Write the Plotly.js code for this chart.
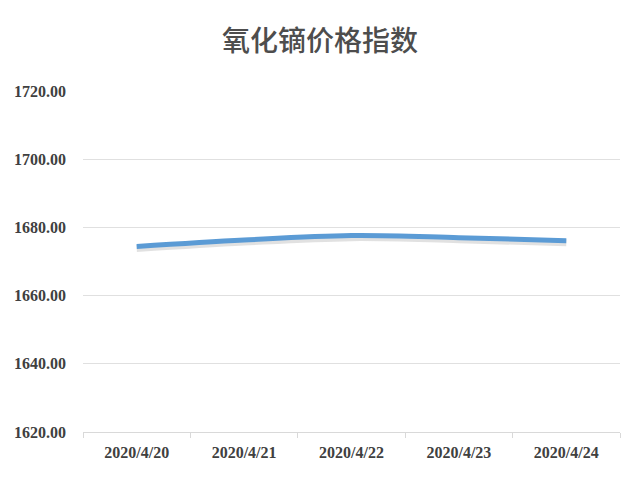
<!DOCTYPE html>
<html><head><meta charset="utf-8">
<script src="https://cdn.plot.ly/plotly-3.0.1.min.js"></script>
<style>html,body{margin:0;padding:0;background:#fff;}#chart{width:640px;height:480px;}</style>
</head><body><div id="chart"></div>
<script>
const categories = ["2020/4/20", "2020/4/21", "2020/4/22", "2020/4/23", "2020/4/24"];
const values = [1674.4, 1676.3, 1677.6, 1677.0, 1676.1];
const yTicks = [1620, 1640, 1660, 1680, 1700, 1720];
const yTickLabels = ["1620.00", "1640.00", "1660.00", "1680.00", "1700.00", "1720.00"];

const shadow = {
  x: categories, y: values.map(v => v - 0.6), type: "scatter", mode: "lines",
  line: {color: "rgba(120,120,120,0.22)", width: 7, shape: "spline"},
  hoverinfo: "skip", showlegend: false
};
const main = {
  x: categories, y: values, type: "scatter", mode: "lines",
  line: {color: "#5b9bd5", width: 5, shape: "spline"},
  showlegend: false
};
const layout = {
  width: 640, height: 480,
  margin: {l: 83, r: 20, t: 91, b: 48},
  paper_bgcolor: "#fff", plot_bgcolor: "#fff",
  title: {text: "氧化镝价格指数", x: 0.5, xanchor: "center", y: 0.915, yanchor: "middle",
          font: {family: "Noto Sans CJK SC", size: 28, weight: 500, color: "#4d4d4d"}},
  xaxis: {
    type: "category", tickson: "boundaries", ticks: "outside", ticklen: 5, tickcolor: "#d9d9d9",
    showline: true, linecolor: "#d9d9d9", linewidth: 1, showgrid: false,
    ticklabelstandoff: 6,
    tickfont: {family: "Liberation Serif", size: 16, weight: "bold", color: "#404040"},
    range: [-0.5, 4.5], fixedrange: true
  },
  yaxis: {
    range: [1620, 1720], tickvals: yTicks, ticktext: yTickLabels,
    showgrid: true, gridcolor: "#e0e0e0", gridwidth: 1, zeroline: false,
    showline: false, ticks: "", ticklabelstandoff: 16,
    tickfont: {family: "Liberation Serif", size: 16, weight: "bold", color: "#404040"}
  }
};
Plotly.newPlot("chart", [shadow, main], layout, {displayModeBar: false, staticPlot: true});
</script>
</body></html>
